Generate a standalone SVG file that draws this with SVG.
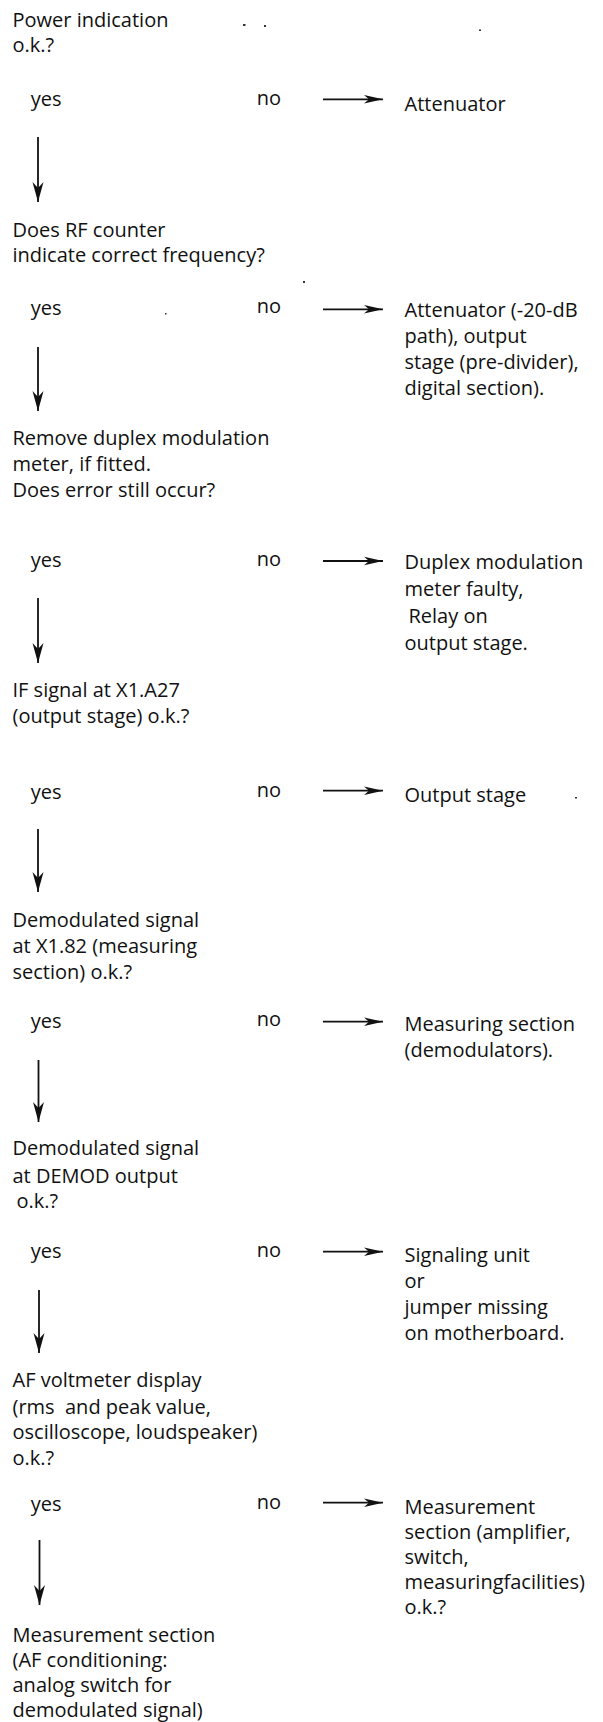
<svg xmlns="http://www.w3.org/2000/svg" width="603" height="1722" viewBox="0 0 603 1722">
<style>
.t{font-family:"Open Sans","Liberation Sans",sans-serif;font-size:20px;fill:#111}
.c{stroke:#111;stroke-width:1.8;fill:none}
.h{marker-end:url(#ah)}
.v{marker-end:url(#av)}
.d{fill:#333}
</style>
<defs>
<marker id="ah" markerUnits="userSpaceOnUse" orient="auto" markerWidth="22" markerHeight="12" refX="19" refY="5" viewBox="0 0 22 12" overflow="visible">
<path d="M0,0.7 L19,5 L0,9.3 L5,5 Z" fill="#111"/>
</marker>
<marker id="av" markerUnits="userSpaceOnUse" orient="auto" markerWidth="22" markerHeight="14" refX="20" refY="6" viewBox="0 0 22 14" overflow="visible">
<path d="M0,0.5 L20,6 L0,11.5 L6,6 Z" fill="#111"/>
</marker>
</defs>
<rect width="603" height="1722" fill="#fff"/>

<g id="q1">
<text class="t" x="12.5" y="26.7">Power indication</text>
<text class="t" x="12.5" y="51.7">o.k.?</text>
</g>
<g id="r1">
<text class="t" x="404.5" y="111">Attenuator</text>
</g>

<g id="q2">
<text class="t" x="12.5" y="236.5">Does RF counter</text>
<text class="t" x="12.5" y="262">indicate correct frequency?</text>
</g>
<g id="r2">
<text class="t" x="404.5" y="317">Attenuator (-20-dB</text>
<text class="t" x="404.5" y="343">path), output</text>
<text class="t" x="404.5" y="369">stage (pre-divider),</text>
<text class="t" x="404.5" y="395">digital section).</text>
</g>

<g id="q3">
<text class="t" x="12.5" y="445">Remove duplex modulation</text>
<text class="t" x="12.5" y="471">meter, if fitted.</text>
<text class="t" x="12.5" y="497">Does error still occur?</text>
</g>
<g id="r3">
<text class="t" x="404.5" y="569">Duplex modulation</text>
<text class="t" x="404.5" y="596">meter faulty,</text>
<text class="t" x="408.5" y="623">Relay on</text>
<text class="t" x="404.5" y="650">output stage.</text>
</g>

<g id="q4">
<text class="t" x="12.5" y="697">IF signal at X1.A27</text>
<text class="t" x="12.5" y="723">(output stage) o.k.?</text>
</g>
<g id="r4">
<text class="t" x="404.5" y="801.7">Output stage</text>
</g>

<g id="q5">
<text class="t" x="12.5" y="927">Demodulated signal</text>
<text class="t" x="12.5" y="953">at X1.82 (measuring</text>
<text class="t" x="12.5" y="978.5">section) o.k.?</text>
</g>
<g id="r5">
<text class="t" x="404.5" y="1031">Measuring section</text>
<text class="t" x="404.5" y="1057">(demodulators).</text>
</g>

<g id="q6">
<text class="t" x="12.5" y="1155">Demodulated signal</text>
<text class="t" x="12.5" y="1183">at DEMOD output</text>
<text class="t" x="16.5" y="1208.3">o.k.?</text>
</g>
<g id="r6">
<text class="t" x="404.5" y="1262">Signaling unit</text>
<text class="t" x="404.5" y="1288">or</text>
<text class="t" x="404.5" y="1314">jumper missing</text>
<text class="t" x="404.5" y="1340">on motherboard.</text>
</g>

<g id="q7">
<text class="t" x="12.5" y="1387">AF voltmeter display</text>
<text class="t" x="12.5" y="1413.5" xml:space="preserve">(rms  and peak value,</text>
<text class="t" x="12.5" y="1439">oscilloscope, loudspeaker)</text>
<text class="t" x="12.5" y="1465">o.k.?</text>
</g>
<g id="r7">
<text class="t" x="404.5" y="1514">Measurement</text>
<text class="t" x="404.5" y="1539">section (amplifier,</text>
<text class="t" x="404.5" y="1564">switch,</text>
<text class="t" x="404.5" y="1589">measuringfacilities)</text>
<text class="t" x="404.5" y="1614">o.k.?</text>
</g>

<g id="q8">
<text class="t" x="12.5" y="1641.5">Measurement section</text>
<text class="t" x="12.5" y="1666.7">(AF conditioning:</text>
<text class="t" x="12.5" y="1691.7">analog switch for</text>
<text class="t" x="12.5" y="1717">demodulated signal)</text>
</g>

<g id="labels">
<text class="t" x="30.7" y="106">yes</text><text class="t" x="256.7" y="105">no</text>
<text class="t" x="30.7" y="315">yes</text><text class="t" x="256.7" y="313">no</text>
<text class="t" x="30.7" y="567.3">yes</text><text class="t" x="256.7" y="565.7">no</text>
<text class="t" x="30.7" y="799.3">yes</text><text class="t" x="256.7" y="797">no</text>
<text class="t" x="30.7" y="1028.3">yes</text><text class="t" x="256.7" y="1026">no</text>
<text class="t" x="30.7" y="1258.3">yes</text><text class="t" x="256.7" y="1256.7">no</text>
<text class="t" x="30.7" y="1511">yes</text><text class="t" x="256.7" y="1508.5">no</text>
</g>

<g id="connectors">
<line class="c h" x1="323" y1="99.3" x2="383" y2="99.3"/>
<line class="c h" x1="323" y1="309.3" x2="383" y2="309.3"/>
<line class="c h" x1="323" y1="561" x2="383" y2="561"/>
<line class="c h" x1="323" y1="790.7" x2="383" y2="790.7"/>
<line class="c h" x1="323" y1="1021.7" x2="383" y2="1021.7"/>
<line class="c h" x1="323" y1="1251.7" x2="383" y2="1251.7"/>
<line class="c h" x1="323" y1="1502.7" x2="383" y2="1502.7"/>
<line class="c v" x1="38" y1="137" x2="38" y2="202"/>
<line class="c v" x1="38" y1="347" x2="38" y2="411"/>
<line class="c v" x1="38" y1="598" x2="38" y2="663"/>
<line class="c v" x1="38" y1="829" x2="38" y2="892"/>
<line class="c v" x1="38.5" y1="1060" x2="38.5" y2="1122"/>
<line class="c v" x1="39" y1="1290" x2="39" y2="1353"/>
<line class="c v" x1="39.5" y1="1540" x2="39.5" y2="1605"/>
</g>

<g id="specks">
<rect class="d" x="243" y="24" width="2.5" height="2"/>
<rect class="d" x="264" y="25" width="2" height="2"/>
<rect class="d" x="479" y="29.5" width="2" height="1.5"/>
<rect class="d" x="303" y="281" width="2" height="2"/>
<rect class="d" x="165" y="313" width="1.5" height="1.5"/>
<rect class="d" x="575" y="797" width="2" height="1.5"/>
</g>
</svg>
